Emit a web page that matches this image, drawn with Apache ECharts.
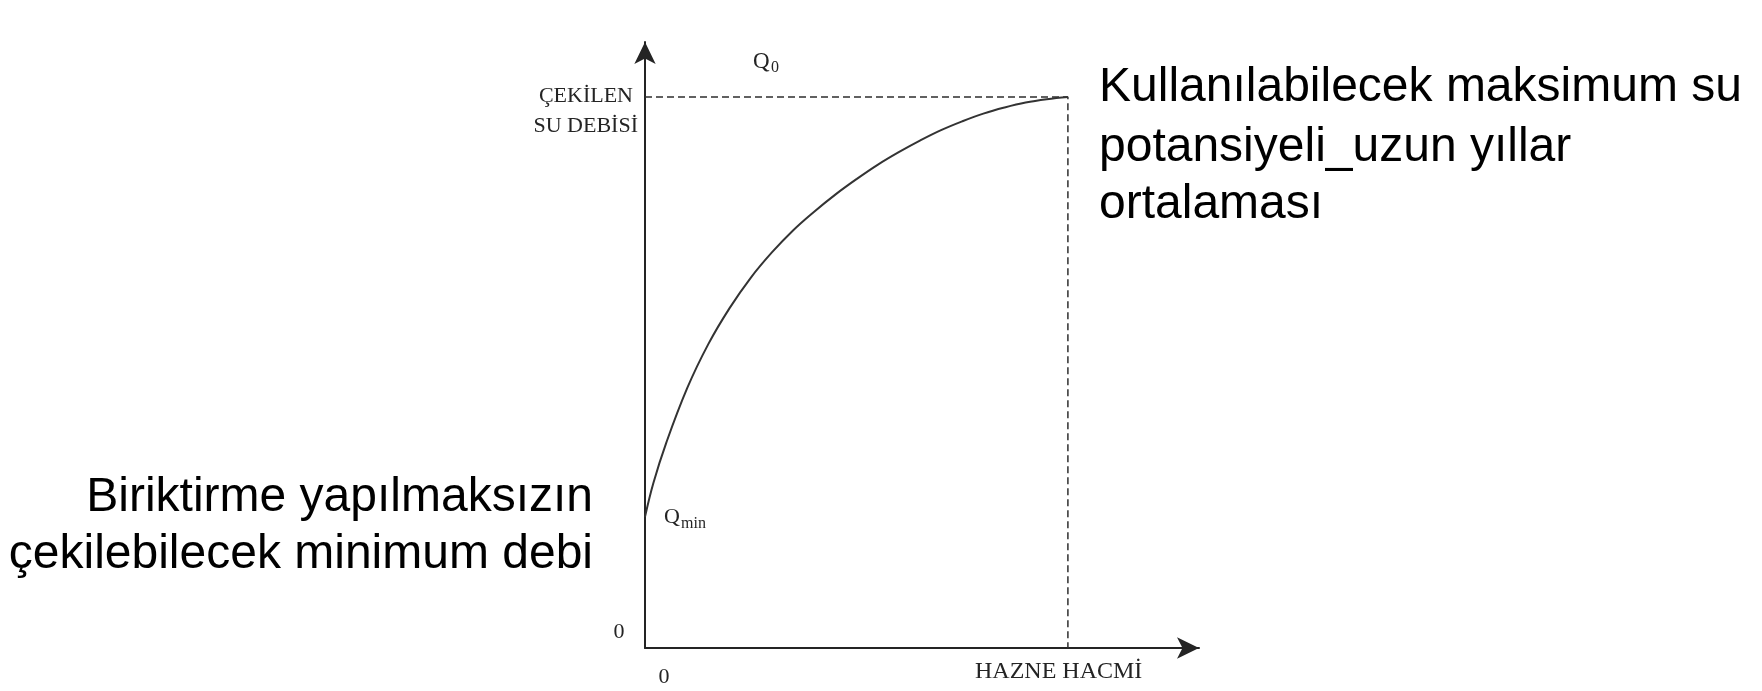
<!DOCTYPE html>
<html>
<head>
<meta charset="utf-8">
<title>Hazne hacmi – çekilen su debisi</title>
<script src="https://cdn.jsdelivr.net/npm/echarts@6/dist/echarts.min.js"></script>
<style>
  html, body { margin: 0; padding: 0; background: #ffffff; }
  #chart { width: 1762px; height: 691px; }
</style>
</head>
<body>
<div id="chart"></div>
<script>
// Reservoir volume (relative to the volume that yields Q0) and withdrawable discharge (relative to Q0)
const volume    = [0, 0.02, 0.05, 0.10, 0.15, 0.20, 0.25, 0.30, 0.35, 0.40, 0.45, 0.50, 0.55, 0.60, 0.65, 0.70, 0.75, 0.80, 0.85, 0.90, 0.95, 1.0];
const discharge = [0.238, 0.300, 0.372, 0.472, 0.552, 0.617, 0.672, 0.718, 0.758, 0.792, 0.823, 0.851, 0.877, 0.900, 0.921, 0.940, 0.956, 0.970, 0.981, 0.990, 0.996, 1.0];

// Limits: long-term mean discharge Q0 reached at the full reservoir volume
const q0Level    = 1.0;
const fullVolume = 1.0;
const guideX = [0, fullVolume, fullVolume];
const guideY = [q0Level, q0Level, 0];

// Text
const yAxisTitle = ['ÇEKİLEN', 'SU DEBİSİ'];
const xAxisTitle = 'HAZNE HACMİ';
const noteMax = ['Kullanılabilecek maksimum su', 'potansiyeli_uzun yıllar', 'ortalaması'];
const noteMin = ['Biriktirme yapılmaksızın', 'çekilebilecek minimum debi'];

const curveData = volume.map((v, i) => [v, discharge[i]]);
const guideData = guideX.map((v, i) => [v, guideY[i]]);

const serif = '"Liberation Serif", "DejaVu Serif", serif';
const sans = '"Liberation Sans", Arial, sans-serif';
const ink = '#242424';

const chart = echarts.init(document.getElementById('chart'), null, { renderer: 'canvas' });

const axisLine = {
  show: true,
  symbol: ['none', 'arrow'],
  symbolSize: [16, 22],
  lineStyle: { color: ink, width: 2 }
};

function text(x, y, str, opts) {
  return {
    type: 'text',
    x: x, y: y,
    silent: true,
    style: Object.assign({
      text: str,
      fill: ink,
      font: '22px ' + serif,
      textAlign: 'left',
      textVerticalAlign: 'middle'
    }, opts || {})
  };
}

chart.setOption({
  animation: false,
  backgroundColor: '#ffffff',
  grid: { left: 645, right: 563, top: 42, bottom: 43 },
  xAxis: {
    type: 'value', min: 0, max: 1.31,
    axisLine: axisLine,
    axisTick: { show: false }, axisLabel: { show: false }, splitLine: { show: false }
  },
  yAxis: {
    type: 'value', min: 0, max: 1.1,
    axisLine: axisLine,
    axisTick: { show: false }, axisLabel: { show: false }, splitLine: { show: false }
  },
  series: [
    {
      type: 'line',
      data: guideData,
      showSymbol: false,
      lineStyle: { color: '#2e2e2e', width: 1.5, type: [7, 4] },
      z: 2
    },
    {
      type: 'line',
      data: curveData,
      smooth: 0.4,
      showSymbol: false,
      lineStyle: { color: '#333333', width: 2 },
      z: 3
    }
  ],
  graphic: [
    // axis titles
    text(633, 96, yAxisTitle[0], { textAlign: 'right' }),
    text(638, 126, yAxisTitle[1], { textAlign: 'right' }),
    text(975, 672, xAxisTitle, { font: '24px ' + serif }),
    // origin marks
    text(619, 632, '0', { textAlign: 'center' }),
    text(664, 677, '0', { textAlign: 'center' }),
    // Q0 and Qmin
    text(753, 62, 'Q', { font: '23px ' + serif }),
    text(771, 68, '0', { font: '16px ' + serif }),
    text(664, 517, 'Q'),
    text(681, 524, 'min', { font: '16px ' + serif }),
    // notes
    text(1099, 88, noteMax[0], { fill: '#000', font: '48px ' + sans }),
    text(1099, 148, noteMax[1], { fill: '#000', font: '48px ' + sans }),
    text(1099, 205, noteMax[2], { fill: '#000', font: '48px ' + sans }),
    text(593, 498, noteMin[0], { fill: '#000', font: '48px ' + sans, textAlign: 'right' }),
    text(593, 555, noteMin[1], { fill: '#000', font: '48px ' + sans, textAlign: 'right' })
  ]
});
</script>
</body>
</html>
